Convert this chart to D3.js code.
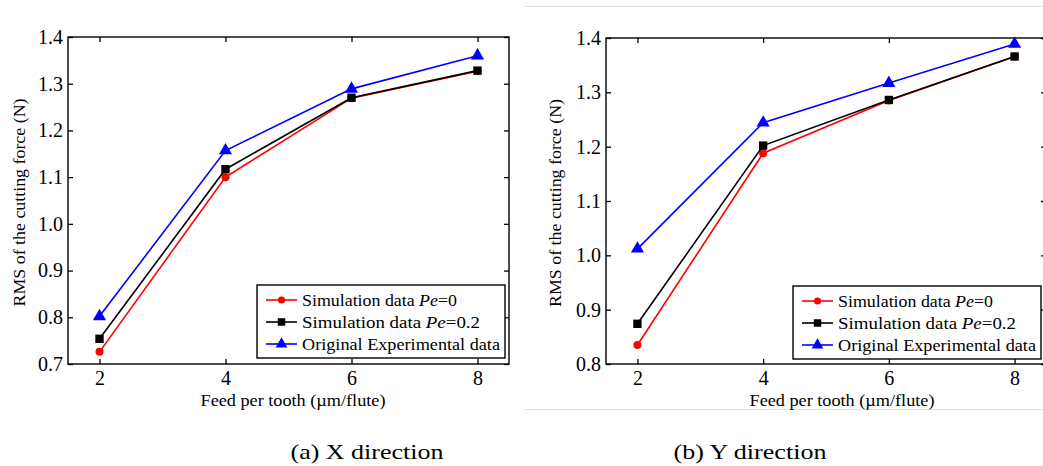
<!DOCTYPE html>
<html>
<head>
<meta charset="utf-8">
<script src="https://cdn.jsdelivr.net/npm/d3@7"></script>
<style>
  body { margin: 0; background: #fff; }
  svg { display: block; }
  svg text { font-family: "Times New Roman", Times, "Liberation Serif", serif; }
</style>
</head>
<body>
<svg id="chart" width="1043" height="466"></svg>
<script>
// values
var feed = [2, 4, 6, 8];
var xTicks = [2, 4, 6, 8];

var xdirSimPe0  = [0.726, 1.100, 1.269, 1.327];
var xdirSimPe02 = [0.754, 1.117, 1.270, 1.328];
var xdirExp     = [0.802, 1.157, 1.289, 1.360];
var xdirTicks   = [0.7, 0.8, 0.9, 1.0, 1.1, 1.2, 1.3, 1.4];

var ydirSimPe0  = [0.835, 1.188, 1.285, 1.366];
var ydirSimPe02 = [0.874, 1.202, 1.286, 1.366];
var ydirExp     = [1.012, 1.244, 1.317, 1.389];
var ydirTicks   = [0.8, 0.9, 1.0, 1.1, 1.2, 1.3, 1.4];

var seriesNames = ["Simulation data ", "Simulation data ", "Original Experimental data"];
var seriesColors = ["#ff0000", "#000000", "#0000ff"];
var seriesShapes = [d3.symbolCircle, d3.symbolSquare, d3.symbolTriangle];
var seriesSizes = [50, 70, 75];

var svg = d3.select("#chart");

function drawPanel(p) {
  var x = d3.scaleLinear().domain([1.5, 8.5]).range([p.left, p.right]);
  var y = d3.scaleLinear().domain(p.ydomain).range([p.bottom, p.top]);
  var g = svg.append("g");

  // axes with inward ticks, MATLAB box style
  g.append("g")
    .attr("transform", "translate(0," + p.bottom + ")")
    .call(d3.axisBottom(x).tickValues(xTicks).tickSizeInner(-5).tickSizeOuter(0).tickPadding(7).tickFormat(d3.format("d")))
    .call(styleAxis);
  g.append("g")
    .attr("transform", "translate(0," + p.top + ")")
    .call(d3.axisTop(x).tickValues(xTicks).tickSizeInner(-5).tickSizeOuter(0).tickFormat(""))
    .call(styleAxis);
  g.append("g")
    .attr("transform", "translate(" + p.left + ",0)")
    .call(d3.axisLeft(y).tickValues(p.yticks).tickSizeInner(-5).tickSizeOuter(0).tickPadding(5).tickFormat(d3.format(".1f")))
    .call(styleAxis);
  g.append("g")
    .attr("transform", "translate(" + p.right + ",0)")
    .call(d3.axisRight(y).tickValues(p.yticks).tickSizeInner(-5).tickSizeOuter(0).tickFormat(""))
    .call(styleAxis);

  g.append("rect")
    .attr("x", p.left).attr("y", p.top)
    .attr("width", p.right - p.left).attr("height", p.bottom - p.top)
    .attr("fill", "none").attr("stroke", "#000").attr("stroke-width", 1.4);

  var line = d3.line()
    .x(function(d, i) { return x(feed[i]); })
    .y(function(d) { return y(d); });

  p.series.forEach(function(vals, k) {
    g.append("path")
      .datum(vals)
      .attr("d", line)
      .attr("fill", "none")
      .attr("stroke", seriesColors[k])
      .attr("stroke-width", 1.6);
    g.selectAll(".m" + k)
      .data(vals)
      .enter().append("path")
        .attr("transform", function(d, i) { return "translate(" + x(feed[i]) + "," + y(d) + ")"; })
        .attr("d", d3.symbol().type(seriesShapes[k]).size(seriesSizes[k]))
        .attr("fill", seriesColors[k]);
  });

  // legend
  var lg = g.append("g").attr("transform", "translate(" + p.legX + "," + p.legY + ")");
  lg.append("rect")
    .attr("width", p.legW).attr("height", 73)
    .attr("fill", "#fff").attr("stroke", "#000").attr("stroke-width", 1.4);
  seriesNames.forEach(function(name, k) {
    var yy = 15 + k * 22;
    lg.append("line")
      .attr("x1", 9).attr("x2", 40).attr("y1", yy).attr("y2", yy)
      .attr("stroke", seriesColors[k]).attr("stroke-width", 1.6);
    lg.append("path")
      .attr("transform", "translate(24.5," + yy + ")")
      .attr("d", d3.symbol().type(seriesShapes[k]).size(seriesSizes[k] * 0.8))
      .attr("fill", seriesColors[k]);
    var t = lg.append("text")
      .attr("x", 45).attr("y", yy + 6)
      .attr("font-size", 17.5)
      .attr("textLength", p.legText[k]).attr("lengthAdjust", "spacingAndGlyphs");
    t.append("tspan").text(name);
    if (k === 0) {
      t.append("tspan").attr("font-style", "italic").text("Pe");
      t.append("tspan").text("=0");
    } else if (k === 1) {
      t.append("tspan").attr("font-style", "italic").text("Pe");
      t.append("tspan").text("=0.2");
    }
  });

  // axis titles
  g.append("text")
    .attr("transform", "translate(" + p.ytitleX + "," + ((p.top + p.bottom) / 2 + 2) + ") rotate(-90)")
    .attr("text-anchor", "middle")
    .attr("font-size", 17)
    .attr("textLength", 208).attr("lengthAdjust", "spacingAndGlyphs")
    .text("RMS of the cutting force (N)");
  g.append("text")
    .attr("x", p.xtitleX).attr("y", 406)
    .attr("text-anchor", "middle")
    .attr("font-size", 17)
    .attr("textLength", 185).attr("lengthAdjust", "spacingAndGlyphs")
    .text("Feed per tooth (\u00b5m/flute)");

  svg.append("text")
    .attr("x", p.capX).attr("y", 459)
    .attr("text-anchor", "middle")
    .attr("font-size", 22)
    .attr("textLength", 153).attr("lengthAdjust", "spacingAndGlyphs")
    .text(p.caption);
}

function styleAxis(sel) {
  sel.select(".domain").remove();
  sel.attr("font-family", null);
  sel.selectAll(".tick line").attr("stroke", "#000").attr("stroke-width", 1.3);
  sel.selectAll(".tick text")
    .attr("fill", "#000")
    .attr("font-size", 20);
}

// faint page borders around the second panel
svg.append("line").attr("x1", 524).attr("x2", 1043).attr("y1", 6.5).attr("y2", 6.5)
  .attr("stroke", "#e2e2e2").attr("stroke-width", 1);
svg.append("line").attr("x1", 524).attr("x2", 1043).attr("y1", 409.5).attr("y2", 409.5)
  .attr("stroke", "#e2e2e2").attr("stroke-width", 1);

drawPanel({
  left: 68, right: 509, top: 37, bottom: 364,
  ydomain: [0.7, 1.4], yticks: xdirTicks,
  series: [xdirSimPe0, xdirSimPe02, xdirExp],
  legX: 257, legY: 285, legW: 248, legText: [155, 178, 198],
  ytitleX: 25, xtitleX: 293, capX: 367, caption: "(a) X direction"
});

drawPanel({
  left: 606, right: 1046, top: 38, bottom: 364,
  ydomain: [0.8, 1.4], yticks: ydirTicks,
  series: [ydirSimPe0, ydirSimPe02, ydirExp],
  legX: 793, legY: 286, legW: 248, legText: [155, 178, 198],
  ytitleX: 561, xtitleX: 842, capX: 750, caption: "(b) Y direction"
});
</script>
</body>
</html>
